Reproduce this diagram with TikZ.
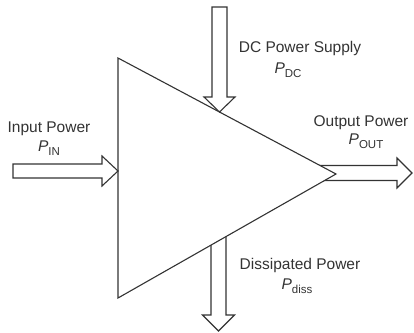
\documentclass[tikz,border=0pt]{standalone}
\usepackage{fontspec}
\setmainfont{Liberation Sans}
\newcommand{\psub}[1]{\textit{P}\raisebox{-0.25em}{\fontsize{11.5}{13}\selectfont #1}}
\begin{document}
\begin{tikzpicture}[x=1pt,y=-1pt,
  blk/.style={draw=black!80,line width=1.1pt,fill=white,line join=miter},
  lbl/.style={text=black!80,font=\fontsize{15.5}{18}\selectfont,inner sep=0pt,align=center}]
\useasboundingbox (0,0) rectangle (414,332);
% triangle corners
\coordinate (T) at (118,58);
\coordinate (B) at (118,298);
\coordinate (A) at (336,174);
% arrows drawn beneath the triangle
\draw[blk] (218.5,200) -- (226,200) -- (226,315) -- (234.5,315) -- (218.5,331) -- (202.5,315) -- (211,315) -- (211,200) -- cycle;
\draw[blk] (300,165.5) -- (397,165.5) -- (397,158) -- (412,173) -- (397,188) -- (397,180.5) -- (300,180.5) -- cycle;
% amplifier triangle
\draw[blk] (T) -- (A) -- (B) -- cycle;
% input arrow
\draw[blk] (13,164) -- (102,164) -- (102,156) -- (118,171) -- (102,186) -- (102,178) -- (13,178) -- cycle;
% DC supply arrow
\draw[blk] (212,7) -- (227,7) -- (227,97) -- (235,97) -- (219.5,112) -- (204,97) -- (212,97) -- cycle;
% labels
\node[lbl] (lin) at (49,129) {Input Power};
\node[lbl] (pin) at (49,148) {\psub{IN}};
\node[lbl] (ldc) at (300,48) {DC Power Supply};
\node[lbl] (pdc) at (288,70) {\psub{DC}};
\node[lbl] (lout) at (361,123) {Output Power};
\node[lbl] (pout) at (366,141) {\psub{OUT}};
\node[lbl] (ldis) at (300,265) {Dissipated Power};
\node[lbl] (pdis) at (297,286) {\psub{diss}};
\end{tikzpicture}
\end{document}
